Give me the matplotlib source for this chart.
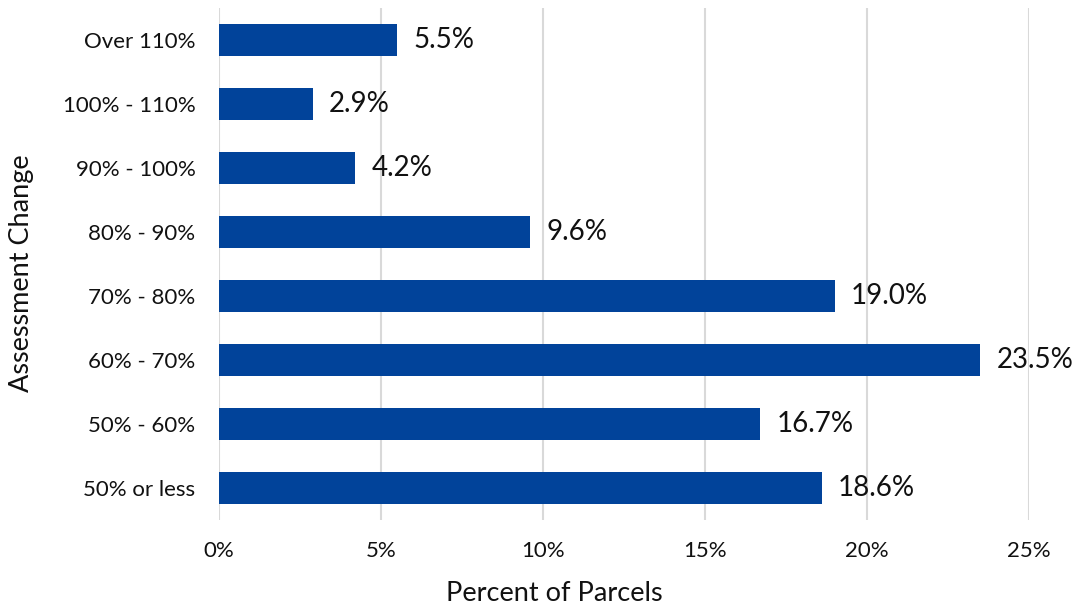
import matplotlib.pyplot as plt
import numpy as np

plt.rcParams['font.family'] = ['Lato', 'DejaVu Sans']

# categories bottom to top
categories = ['50% or less', '50% - 60%', '60% - 70%', '70% - 80%',
              '80% - 90%', '90% - 100%', '100% - 110%', 'Over 110%']
values = [18.6, 16.7, 23.5, 19.0, 9.6, 4.2, 2.9, 5.5]
xticks = [0, 5, 10, 15, 20, 25]

fig = plt.figure(figsize=(10.78, 6.08), dpi=100)
ax = fig.add_axes([0.2032, 0.1447, 0.7513, 0.842])

y = np.arange(len(categories))
ax.barh(y, values, height=0.5, color='#01439A', zorder=3)

for yi, v in zip(y, values):
    ax.text(v + 0.5, yi, f'{v:.1f}%', va='center', ha='left',
            fontsize=20, color='#111111')

ax.set_xlim(0, 25)
ax.set_ylim(-0.5, 7.5)
ax.set_xticks(xticks)
ax.set_xticklabels([f'{t}%' for t in xticks])
ax.set_yticks(y)
ax.set_yticklabels(categories)
ax.tick_params(axis='both', length=0, labelsize=16, colors='#111111')
ax.tick_params(axis='x', pad=15)
ax.tick_params(axis='y', pad=17)
ax.xaxis.grid(True, color='#d9d9d9', linewidth=1.5, zorder=0)
for s in ax.spines.values():
    s.set_visible(False)

fig.text(554 / 1078, 0.003, 'Percent of Parcels', fontsize=19.5,
         ha='center', va='bottom', color='#111111')
fig.text(22 / 1078, 1 - 273 / 608, 'Assessment Change', fontsize=19.5,
         rotation=90, ha='center', va='center', color='#111111')

fig.savefig('out.png', dpi=100)
